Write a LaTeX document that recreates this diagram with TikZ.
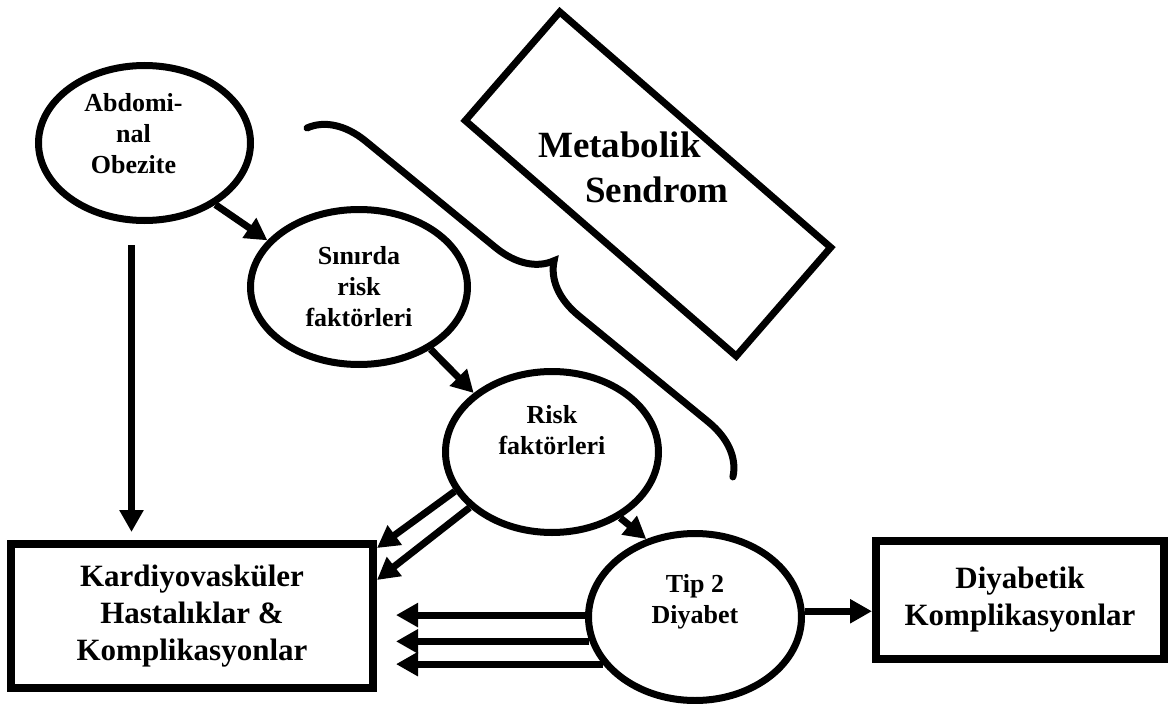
\documentclass[tikz,border=0pt]{standalone}
\usepackage{fontspec}
\setmainfont{Liberation Serif}
\usetikzlibrary{shapes.geometric, arrows.meta, decorations.pathreplacing}

\begin{document}
\begin{tikzpicture}[x=1pt, y=-1pt,
  oval/.style={ellipse, draw, line width=7pt, inner sep=0pt},
  box/.style={rectangle, draw, line width=8pt, align=center, inner sep=0pt},
  small/.style={font=\bfseries\fontsize{26}{31}\selectfont, align=center},
  big/.style={font=\bfseries\fontsize{31}{37}\selectfont},
  arr/.style={line width=7pt, -{Triangle[length=22pt, width=23pt]}}]
  \useasboundingbox (0, 0) rectangle (1171, 704);

  % Ovals
  \node[oval, minimum width=212pt, minimum height=155pt,
    label={[small, xshift=-11pt, yshift=9pt]center:Abdomi-\\nal\\Obezite}]
    (abd) at (144.5, 143) {};
  \node[oval, minimum width=217pt, minimum height=155pt,
    label={[small]center:Sınırda\\risk\\faktörleri}]
    (sin) at (359, 287) {};
  \node[oval, minimum width=213pt, minimum height=161pt,
    label={[small, yshift=22pt]center:Risk\\faktörleri}]
    (risk) at (552, 452) {};
  \node[oval, minimum width=213pt, minimum height=167pt,
    label={[small, yshift=15pt]center:Tip 2\\Diyabet}]
    (tip2) at (695, 617) {};

  % Boxes
  \node[box, big, minimum width=362pt, minimum height=144pt]
    (kard) at (192, 616) {Kardiyovasküler\\Hastalıklar \&\\Komplikasyonlar};
  \node[box, big, minimum width=288pt, minimum height=118pt]
    (diy) at (1020, 600) {Diyabetik\\Komplikasyonlar};

  % Metabolik Sendrom
  \node[draw, line width=7pt, minimum width=359pt, minimum height=144pt,
    rotate=-41] (ms) at (648, 184) {};
  \node[anchor=north west, inner sep=0pt, align=left,
    font=\bfseries\fontsize{37}{45}\selectfont]
    (mstxt) at (538, 132) {Metabolik\\\hspace*{47pt}Sendrom};

  % Brace
  \coordinate (bt) at (307, 128);
  \coordinate (bb) at (733, 477);
  \draw[line width=7pt, line cap=round, decorate,
    decoration={brace, amplitude=54pt}] (bt) -- (bb);

  % Arrows
  \draw[arr] (abd.-41) -- (sin.153);
  \draw[arr] (sin.-41) -- (risk.143);
  \draw[arr] (risk.-44) -- (tip2.122);
  \draw[arr] (risk.-158) -- ([yshift=68pt]kard.east);
  \draw[arr] (risk.-146) -- ([yshift=36pt]kard.east);
  \draw[arr] (tip2.3) -- (tip2.3 -| diy.west);

  \coordinate (kin) at ([xshift=19pt]kard.east);
  \foreach \a in {179, -167, -153}
    \draw[arr] (tip2.\a) -- (tip2.\a -| kin);

  \coordinate (vtop) at ([xshift=-13pt, yshift=-21pt]abd.south);
  \coordinate (vend) at ([yshift=8pt]kard.north);
  \draw[arr] (vtop) -- (vtop |- vend);
\end{tikzpicture}
\end{document}
